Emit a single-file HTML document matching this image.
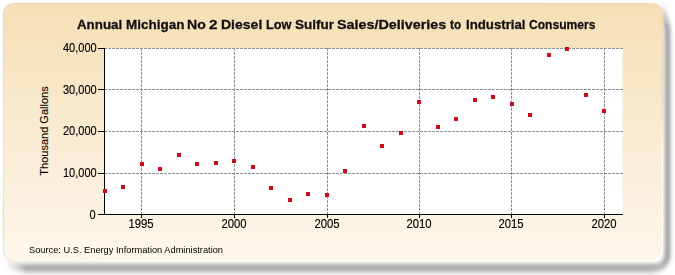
<!DOCTYPE html>
<html><head><meta charset="utf-8"><style>
html,body{margin:0;padding:0;width:675px;height:275px;overflow:hidden;background:#fff;position:relative;font-family:"Liberation Sans",sans-serif}
svg{position:absolute;left:0;top:0}
.g{stroke:#919191;stroke-width:1;stroke-dasharray:3 1;shape-rendering:crispEdges}
.a{stroke:#000;stroke-width:1;shape-rendering:crispEdges}
.title{position:absolute;left:0;top:16.5px;font-weight:bold;font-size:13.4px;line-height:16px;color:#111;white-space:nowrap}
.tw{position:absolute;top:0;transform-origin:0 50%;-webkit-text-stroke:0.3px #111}
.yl{position:absolute;right:578px;font-size:12px;line-height:14px;color:#000;text-align:right;-webkit-text-stroke:0.15px #000;white-space:nowrap;transform:scaleX(0.92);transform-origin:100% 50%}
.xl{position:absolute;top:216.5px;width:40px;font-size:12px;line-height:14px;color:#000;-webkit-text-stroke:0.15px #000;text-align:center;transform:scaleX(0.94)}
.yt{position:absolute;left:44px;top:131px;width:120px;margin-left:-60px;margin-top:-7px;text-align:center;font-size:11px;line-height:14px;color:#000;-webkit-text-stroke:0.1px #000;transform:rotate(-90deg);white-space:nowrap}
.src{position:absolute;left:29px;top:243.5px;font-size:9.6px;line-height:12px;color:#000;transform-origin:0 50%;transform:scaleX(0.965);white-space:nowrap}
</style></head><body>
<svg width="675" height="275" viewBox="0 0 675 275">
<defs>
<linearGradient id="bg" x1="0" y1="0" x2="0" y2="1">
<stop offset="0" stop-color="#F6DFB5"/><stop offset="0.5" stop-color="#FAEBD2"/><stop offset="1" stop-color="#FEF7EB"/>
</linearGradient>
<filter id="sh" filterUnits="userSpaceOnUse" x="0" y="0" width="675" height="275"><feGaussianBlur stdDeviation="2.9 3.4"/></filter>
<linearGradient id="fy" gradientUnits="userSpaceOnUse" x1="0" y1="2" x2="0" y2="26"><stop offset="0" stop-color="#000"/><stop offset="1" stop-color="#fff"/></linearGradient>
<linearGradient id="fx" gradientUnits="userSpaceOnUse" x1="5" y1="0" x2="25" y2="0"><stop offset="0" stop-color="#000"/><stop offset="1" stop-color="#fff"/></linearGradient>
<mask id="shm" maskUnits="userSpaceOnUse" x="0" y="0" width="675" height="275"><rect x="0" y="0" width="675" height="275" fill="#fff"/><rect x="600" y="0" width="75" height="30" fill="url(#fy)"/><rect x="0" y="230" width="28" height="45" fill="url(#fx)"/></mask>
<linearGradient id="rim" gradientUnits="userSpaceOnUse" x1="0" y1="0" x2="60" y2="275"><stop offset="0" stop-color="#7a6a50" stop-opacity="0.1"/><stop offset="0.6" stop-color="#7a6a50" stop-opacity="0.05"/><stop offset="1" stop-color="#ffffff" stop-opacity="0.6"/></linearGradient>
<filter id="sh2" filterUnits="userSpaceOnUse" x="0" y="240" width="675" height="35"><feGaussianBlur stdDeviation="3 4"/></filter>
</defs>
<path d="M 661,3 Q 664,11 667.5,30 L 667.5,255.5 A 12 12 0 0 1 655.5,267.5 L 24,267.5 Q 10,267.5 6,262" fill="none" stroke="#000" stroke-opacity="0.74" stroke-width="3" filter="url(#sh)" mask="url(#shm)"/>
<line x1="24" y1="270" x2="655" y2="270" stroke="#000" stroke-opacity="0.22" stroke-width="4" filter="url(#sh2)"/>
<rect x="3" y="3" width="660" height="258.5" rx="11" fill="url(#bg)"/>
<rect x="3.5" y="3.5" width="659" height="257.5" rx="10.5" fill="none" stroke="url(#rim)" stroke-width="1.2"/>
<rect x="104" y="48" width="518.5" height="166" fill="#fff"/>
<line x1="104" y1="173.5" x2="622.5" y2="173.5" class="g"/>
<line x1="104" y1="131.5" x2="622.5" y2="131.5" class="g"/>
<line x1="104" y1="89.5" x2="622.5" y2="89.5" class="g"/>
<line x1="104" y1="48.5" x2="622.5" y2="48.5" class="g"/>
<line x1="141.5" y1="48" x2="141.5" y2="214" class="g"/>
<line x1="234.5" y1="48" x2="234.5" y2="214" class="g"/>
<line x1="327.5" y1="48" x2="327.5" y2="214" class="g"/>
<line x1="419.5" y1="48" x2="419.5" y2="214" class="g"/>
<line x1="511.5" y1="48" x2="511.5" y2="214" class="g"/>
<line x1="604.5" y1="48" x2="604.5" y2="214" class="g"/>
<line x1="104.5" y1="48" x2="104.5" y2="215" class="a"/>
<line x1="104" y1="214.5" x2="622.5" y2="214.5" class="a"/>
<line x1="98" y1="214.5" x2="104" y2="214.5" class="a"/>
<line x1="98" y1="173.5" x2="104" y2="173.5" class="a"/>
<line x1="98" y1="131.5" x2="104" y2="131.5" class="a"/>
<line x1="98" y1="89.5" x2="104" y2="89.5" class="a"/>
<line x1="98" y1="48.5" x2="104" y2="48.5" class="a"/>
<line x1="141.5" y1="214" x2="141.5" y2="218" class="a"/>
<line x1="234.5" y1="214" x2="234.5" y2="218" class="a"/>
<line x1="327.5" y1="214" x2="327.5" y2="218" class="a"/>
<line x1="419.5" y1="214" x2="419.5" y2="218" class="a"/>
<line x1="511.5" y1="214" x2="511.5" y2="218" class="a"/>
<line x1="604.5" y1="214" x2="604.5" y2="218" class="a"/>
<rect x="103" y="189" width="4" height="4" fill="#CC0C1E"/>
<rect x="121" y="185" width="4" height="4" fill="#CC0C1E"/>
<rect x="140" y="162" width="4" height="4" fill="#CC0C1E"/>
<rect x="158" y="167" width="4" height="4" fill="#CC0C1E"/>
<rect x="177" y="153" width="4" height="4" fill="#CC0C1E"/>
<rect x="195" y="162" width="4" height="4" fill="#CC0C1E"/>
<rect x="214" y="161" width="4" height="4" fill="#CC0C1E"/>
<rect x="232" y="159" width="4" height="4" fill="#CC0C1E"/>
<rect x="251" y="165" width="4" height="4" fill="#CC0C1E"/>
<rect x="269" y="186" width="4" height="4" fill="#CC0C1E"/>
<rect x="288" y="198" width="4" height="4" fill="#CC0C1E"/>
<rect x="306" y="192" width="4" height="4" fill="#CC0C1E"/>
<rect x="325" y="193" width="4" height="4" fill="#CC0C1E"/>
<rect x="343" y="169" width="4" height="4" fill="#CC0C1E"/>
<rect x="362" y="124" width="4" height="4" fill="#CC0C1E"/>
<rect x="380" y="144" width="4" height="4" fill="#CC0C1E"/>
<rect x="399" y="131" width="4" height="4" fill="#CC0C1E"/>
<rect x="417" y="100" width="4" height="4" fill="#CC0C1E"/>
<rect x="436" y="125" width="4" height="4" fill="#CC0C1E"/>
<rect x="454" y="117" width="4" height="4" fill="#CC0C1E"/>
<rect x="473" y="98" width="4" height="4" fill="#CC0C1E"/>
<rect x="491" y="95" width="4" height="4" fill="#CC0C1E"/>
<rect x="510" y="102" width="4" height="4" fill="#CC0C1E"/>
<rect x="528" y="113" width="4" height="4" fill="#CC0C1E"/>
<rect x="547" y="53" width="4" height="4" fill="#CC0C1E"/>
<rect x="565" y="47" width="4" height="4" fill="#CC0C1E"/>
<rect x="584" y="93" width="4" height="4" fill="#CC0C1E"/>
<rect x="602" y="109" width="4" height="4" fill="#CC0C1E"/>
</svg>
<div class="title"><span class="tw" style="left:76.86px;transform:scaleX(0.995)">Annual</span><span class="tw" style="left:126.29px;transform:scaleX(1.007)">Michigan</span><span class="tw" style="left:187.35px;transform:scaleX(1.052)">No</span><span class="tw" style="left:208.88px;transform:scaleX(1.130)">2</span><span class="tw" style="left:220.76px;transform:scaleX(1.047)">Diesel</span><span class="tw" style="left:265.84px;transform:scaleX(0.953)">Low</span><span class="tw" style="left:294.51px;transform:scaleX(1.008)">Sulfur</span><span class="tw" style="left:337.38px;transform:scaleX(1.071)">Sales/Deliveries</span><span class="tw" style="left:450.46px;transform:scaleX(0.878)">to</span><span class="tw" style="left:465.81px;transform:scaleX(0.987)">Industrial</span><span class="tw" style="left:529.00px;transform:scaleX(0.902)">Consumers</span></div>
<div class="yl" style="top:207.7px;right:579px">0</div>
<div class="yl" style="top:165.5px">10,000</div>
<div class="yl" style="top:124.0px">20,000</div>
<div class="yl" style="top:82.5px">30,000</div>
<div class="yl" style="top:41.0px">40,000</div>
<div class="xl" style="left:121.3px">1995</div>
<div class="xl" style="left:214.3px">2000</div>
<div class="xl" style="left:307.3px">2005</div>
<div class="xl" style="left:399.3px">2010</div>
<div class="xl" style="left:491.3px">2015</div>
<div class="xl" style="left:584.3px">2020</div>
<div class="yt">Thousand Gallons</div>
<div class="src">Source: U.S. Energy Information Administration</div>
</body></html>
